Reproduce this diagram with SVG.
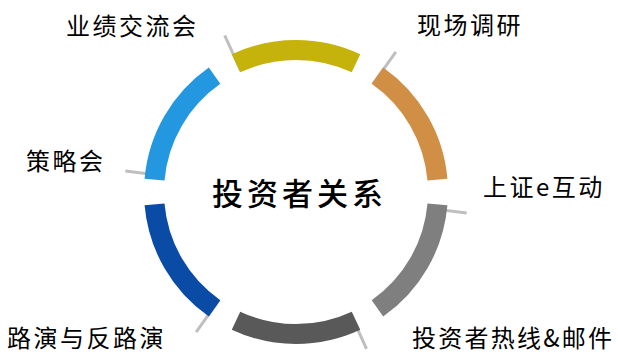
<svg xmlns="http://www.w3.org/2000/svg" width="618" height="354" viewBox="0 0 618 354">
  <style>
    .seg { fill: none; stroke-width: 20; }
    .tick { stroke: #BFBFBF; stroke-width: 3; fill: none; }
    .lbl { font-family: "Noto Sans CJK SC", "Noto Sans", sans-serif; font-size: 24px; fill: #000; letter-spacing: 2.5px; }
    .title { font-family: "Noto Sans CJK SC", "Noto Sans", sans-serif; font-size: 31px; font-weight: 500; fill: #000; letter-spacing: 4px; }
  </style>
  <rect width="618" height="354" fill="#FFFFFF"/>
  <g id="ticks">
    <line class="tick" x1="240.84" y1="70.97" x2="224.67" y2="35.48"/>
    <line class="tick" x1="373.23" y1="83.73" x2="395.88" y2="51.98"/>
    <line class="tick" x1="428.0" y1="208.2" x2="466.7" y2="213.0"/>
    <line class="tick" x1="350.5" y1="313.3" x2="366.5" y2="348.9"/>
    <line class="tick" x1="218.77" y1="300.28" x2="196.12" y2="332.02"/>
    <line class="tick" x1="164.0" y1="175.8" x2="125.3" y2="171.0"/>
  </g>
  <g id="node-yeji">
    <path class="seg" stroke="#C5B30C" d="M235.99,63.31 A142,142 0 0 1 356.01,63.31"/>
    <text class="lbl" x="66" y="35">业绩交流会</text>
  </g>
  <g id="node-diaoyan">
    <path class="seg" stroke="#D08F45" d="M377.45,75.68 A142,142 0 0 1 437.46,179.62"/>
    <text class="lbl" x="417" y="34">现场调研</text>
  </g>
  <g id="node-ehudong">
    <path class="seg" stroke="#7F7F7F" d="M437.46,204.38 A142,142 0 0 1 377.45,308.32"/>
    <text class="lbl" x="483" y="196">上证e互动</text>
  </g>
  <g id="node-rexian">
    <path class="seg" stroke="#595959" d="M356.01,320.69 A142,142 0 0 1 235.99,320.69"/>
    <text class="lbl" x="412" y="347" style="letter-spacing:0" textLength="200" lengthAdjust="spacing">投资者热线&amp;邮件</text>
  </g>
  <g id="node-luyan">
    <path class="seg" stroke="#0A4CA5" d="M214.55,308.32 A142,142 0 0 1 154.54,204.38"/>
    <text class="lbl" x="7" y="347">路演与反路演</text>
  </g>
  <g id="node-celue">
    <path class="seg" stroke="#2398E0" d="M154.54,179.62 A142,142 0 0 1 214.55,75.68"/>
    <text class="lbl" x="26" y="170">策略会</text>
  </g>
  <g id="node-center">
    <text class="title" x="212" y="205">投资者关系</text>
  </g>
</svg>
